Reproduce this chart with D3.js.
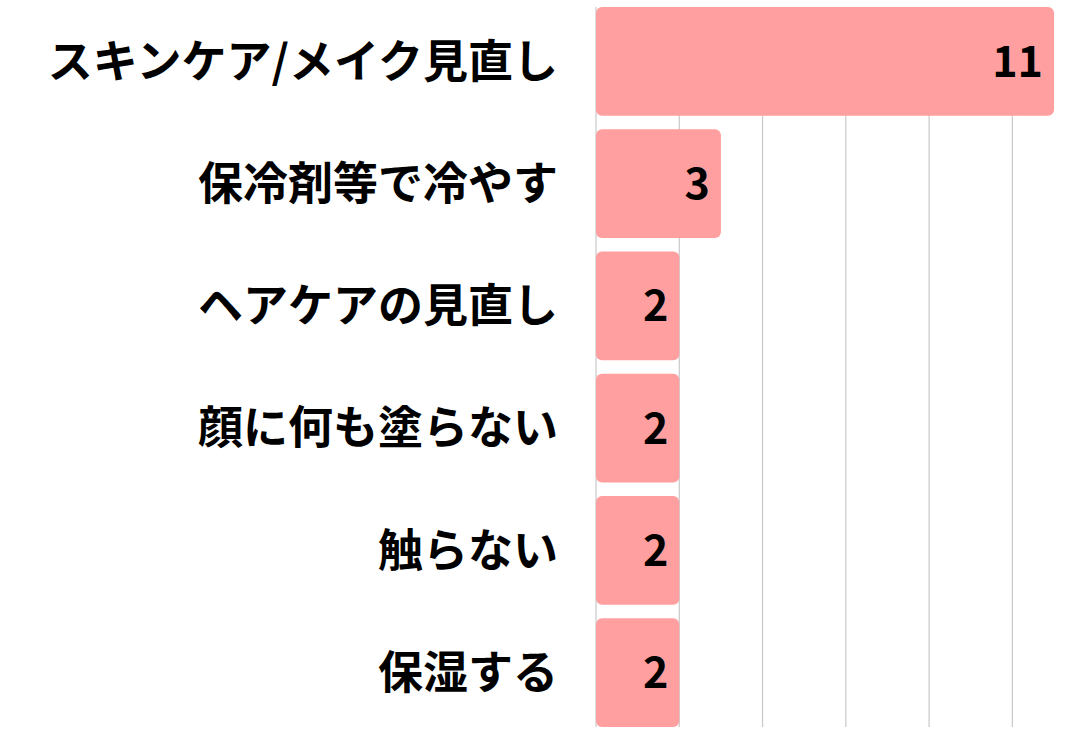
<!DOCTYPE html>
<html>
<head>
<meta charset="utf-8">
<script src="https://cdn.jsdelivr.net/npm/d3@7"></script>
<style>
  body { margin: 0; background: #fff; }
</style>
</head>
<body>
<div id="chart"></div>
<script>
const categories = ["スキンケア/メイク見直し", "保冷剤等で冷やす", "ヘアケアの見直し", "顔に何も塗らない", "触らない", "保湿する"];
const values = [11, 3, 2, 2, 2, 2];
const gridTicks = [0, 2, 4, 6, 8, 10];

var margin = {top: 7, right: 26, bottom: 13, left: 596},
    width = 1080 - margin.left - margin.right,
    height = 740 - margin.top - margin.bottom;

var svg = d3.select("#chart").append("svg")
    .attr("width", 1080)
    .attr("height", 740)
  .append("g")
    .attr("transform", "translate(" + margin.left + "," + margin.top + ")");

const x = d3.scaleLinear()
    .domain([0, 11])
    .range([0, 1054 - margin.left]);

const y = d3.scaleBand()
    .domain(categories)
    .range([0, height])
    .paddingInner(0.11)
    .paddingOuter(0);

// grid lines
svg.selectAll("line.grid")
    .data(gridTicks)
    .enter()
    .append("line")
    .attr("class", "grid")
    .attr("x1", d => x(d))
    .attr("x2", d => x(d))
    .attr("y1", 0)
    .attr("y2", height)
    .style("stroke", "#c8c8c8")
    .style("stroke-width", 1.2);

svg.selectAll("rect.bar")
    .data(values)
    .enter()
    .append("rect")
    .attr("class", "bar")
    .attr("x", 0)
    .attr("y", (d, i) => y(categories[i]))
    .attr("width", d => x(d))
    .attr("height", y.bandwidth())
    .attr("rx", 6)
    .style("fill", "#ff9f9f");

// value labels inside bar ends
svg.selectAll("text.val")
    .data(values)
    .enter()
    .append("text")
    .attr("class", "val")
    .attr("x", d => x(d) - 11)
    .attr("y", (d, i) => y(categories[i]) + y.bandwidth() / 2)
    .attr("dy", "0.36em")
    .attr("text-anchor", "end")
    .style("font-family", "'Noto Sans CJK JP', 'Noto Sans', sans-serif")
    .style("font-weight", "bold")
    .style("font-size", "43px")
    .style("fill", "#000")
    .text(d => d);

// category labels
svg.selectAll("text.cat")
    .data(categories)
    .enter()
    .append("text")
    .attr("class", "cat")
    .attr("x", -38)
    .attr("y", d => y(d) + y.bandwidth() / 2)
    .attr("dy", "0.36em")
    .attr("text-anchor", "end")
    .style("font-family", "'Noto Sans CJK JP', sans-serif")
    .style("font-weight", "bold")
    .style("font-size", "45px")
    .style("fill", "#000")
    .text(d => d);
</script>
</body>
</html>
